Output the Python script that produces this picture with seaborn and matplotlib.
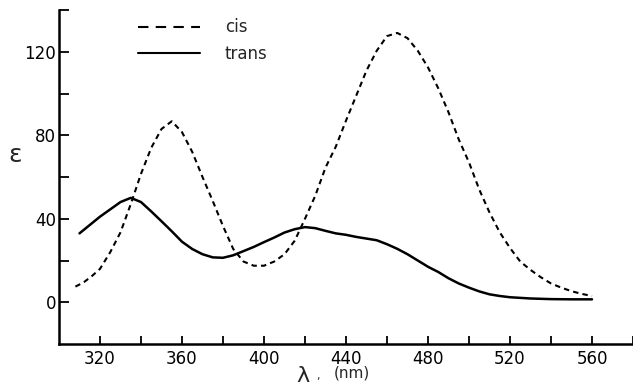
import matplotlib
matplotlib.use("Agg")
import matplotlib.pyplot as plt
from matplotlib.lines import Line2D
import seaborn as sns
import pandas as pd

# ---- data ----
cis_nm = [308, 312, 316, 320, 325, 330, 335, 340, 345, 350, 355, 360, 365, 370,
          375, 380, 385, 390, 395, 400, 405, 410, 415, 420, 425, 430, 435, 440,
          445, 450, 455, 460, 465, 470, 475, 480, 485, 490, 495, 500, 505, 510,
          515, 520, 525, 530, 535, 540, 545, 550, 555, 560]
cis_eps = [7.5, 9.5, 12.5, 16, 24, 33.5, 47, 61.5, 74, 83, 86.7, 81.5, 72, 60,
           48.5, 36.5, 25.5, 19.5, 17.5, 17.5, 19.5, 23, 29.5, 40, 51, 64.5, 74.5, 87,
           99, 111, 120.5, 127.5, 129, 126.5, 120.5, 112.5, 102.5, 91, 78, 67, 54, 43,
           33.5, 26, 19.5, 15.5, 12, 9, 7, 5.3, 4, 3]

trans_nm = [310, 315, 320, 325, 330, 335, 340, 345, 350, 355, 360, 365, 370, 375,
            380, 385, 390, 395, 400, 405, 410, 415, 420, 425, 430, 435, 440, 445,
            450, 455, 460, 465, 470, 475, 480, 485, 490, 495, 500, 505, 510, 515,
            520, 530, 540, 550, 560]
trans_eps = [33, 37, 41, 44.5, 48, 50, 48, 43.5, 38.8, 34, 29, 25.5, 23, 21.5,
             21.3, 22.5, 24.5, 26.5, 28.8, 31, 33.4, 35, 36, 35.5, 34.2, 33, 32.3, 31.3,
             30.5, 29.7, 27.8, 25.6, 23, 20, 17, 14.5, 11.5, 9, 7, 5.2, 3.8, 3,
             2.4, 1.8, 1.5, 1.4, 1.4]

series_names = ["cis", "trans"]
x_major = list(range(320, 581, 20))
x_labels = [str(v) if v % 40 == 0 and v <= 560 else "" for v in x_major]
y_major = list(range(0, 141, 20))
y_labels = [str(v) if v % 40 == 0 and v <= 120 else "" for v in y_major]

cis_df = pd.DataFrame({"nm": cis_nm, "eps": cis_eps})
trans_df = pd.DataFrame({"nm": trans_nm, "eps": trans_eps})

sns.set_style("ticks")
plt.rcParams["font.family"] = ["DejaVu Sans"]

fig = plt.figure(figsize=(6.33, 3.86), dpi=100)
ax = fig.add_axes([59 / 633, 42 / 386, 574 / 633, 334 / 386])

sns.lineplot(data=cis_df, x="nm", y="eps", ax=ax, color="black", lw=1.5,
             linestyle=(0, (2.6, 2.0)), errorbar=None)
sns.lineplot(data=trans_df, x="nm", y="eps", ax=ax, color="black", lw=1.8,
             errorbar=None)

ax.set_xlim(300, 580)
ax.set_ylim(-20, 140)
ax.set_xticks(x_major)
ax.set_xticklabels(x_labels)
ax.set_yticks(y_major)
ax.set_yticklabels(y_labels)

for s in ["top", "right"]:
    ax.spines[s].set_visible(False)
for s in ["left", "bottom"]:
    ax.spines[s].set_linewidth(1.8)
    ax.spines[s].set_color("black")

ax.tick_params(axis="x", direction="in", length=6, width=1.3, pad=4,
               labelsize=12, colors="black")
ax.tick_params(axis="y", direction="in", length=7, width=1.3, pad=2,
               labelsize=12, colors="black")

ax.set_xlabel("")
ax.set_ylabel("ε", rotation=0, fontsize=18, va="center", ha="center")
ax.yaxis.set_label_coords(-0.077, 0.566)

ax.text(0.425, -0.095, "λ", transform=ax.transAxes, fontsize=16,
        ha="center", va="center", clip_on=False)
ax.text(0.452, -0.095, ",", transform=ax.transAxes, fontsize=8,
        ha="center", va="center", clip_on=False)
ax.text(0.510, -0.088, "(nm)", transform=ax.transAxes, fontsize=11,
        ha="center", va="center", clip_on=False)

handles = [
    Line2D([], [], color="black", lw=1.5, linestyle=(0, (5.0, 3.5))),
    Line2D([], [], color="black", lw=1.5),
]
leg = ax.legend(handles, series_names, loc="upper left",
                bbox_to_anchor=(0.126, 0.995), frameon=False, fontsize=12,
                handlelength=3.7, handletextpad=1.5, labelspacing=0.5,
                borderaxespad=0.0)

ax.grid(False)
fig.savefig("out.png", dpi=100)
